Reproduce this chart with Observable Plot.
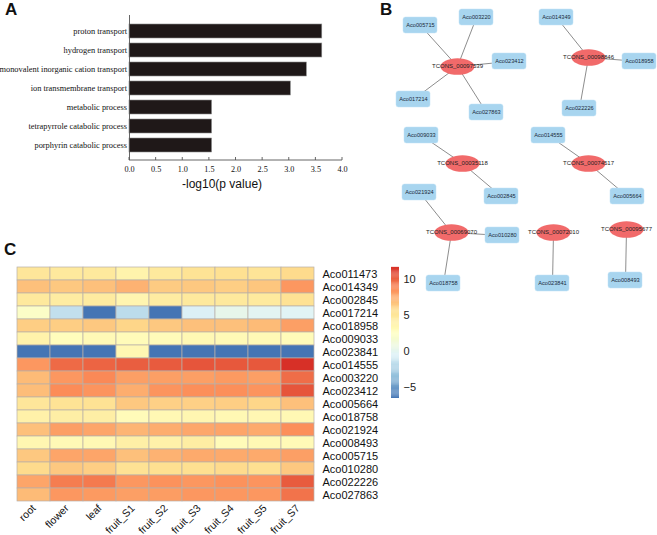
<!DOCTYPE html>
<html><head><meta charset="utf-8">
<script src="https://cdn.jsdelivr.net/npm/d3@7"></script>
<script src="https://cdn.jsdelivr.net/npm/@observablehq/plot@0.6"></script>
<style>
body{margin:0;background:#fff;}
#root{position:relative;width:657px;height:535px;overflow:hidden;background:#fff;font-family:Arial,"Liberation Sans",sans-serif;}
.panel{position:absolute;}
.panel svg{background:transparent !important;overflow:visible;}
.tag{position:absolute;font:bold 17px Arial,"Liberation Sans",sans-serif;color:#111;line-height:1;}
.xtitle{position:absolute;font:12px Arial,"Liberation Sans",sans-serif;color:#111;line-height:1;}
</style></head><body><div id="root"></div>
<script>
// ---------- Panel A data ----------
const goTerms = ["proton transport","hydrogen transport","monovalent inorganic cation transport","ion transmembrane transport","metabolic process","tetrapyrrole catabolic process","porphyrin catabolic process"];
const goValues = [3.62,3.62,3.33,3.03,1.55,1.55,1.55];
const xTicks = [0,0.5,1,1.5,2,2.5,3,3.5,4];

// ---------- Panel B data (network layout coordinates) ----------
const lncNames = ["TCONS_00097539","TCONS_00098846","TCONS_00035118","TCONS_00074517","TCONS_00069070","TCONS_00072010","TCONS_00095677"];
const lncX = [77,208,82,208,71,173,246];
const lncY = [66,57,163,163,232,232,229];
const geneNames = ["Aco005715","Aco003220","Aco023412","Aco017214","Aco027863","Aco014349","Aco018958","Aco022226","Aco009033","Aco002845","Aco014555","Aco005664","Aco021924","Aco010280","Aco018758","Aco023841","Aco008493"];
const geneX = [40,96,129,33,106,176,259,199,41,121,168,247,39,122,63,172,245];
const geneY = [25,17,61,99,112,17,61,108,135,196,135,196,192,235,283,283,280];
const edgeLnc = ["TCONS_00097539","TCONS_00097539","TCONS_00097539","TCONS_00097539","TCONS_00097539","TCONS_00098846","TCONS_00098846","TCONS_00098846","TCONS_00035118","TCONS_00035118","TCONS_00074517","TCONS_00074517","TCONS_00069070","TCONS_00069070","TCONS_00069070","TCONS_00072010","TCONS_00095677"];
const edgeGene = ["Aco005715","Aco003220","Aco023412","Aco017214","Aco027863","Aco014349","Aco018958","Aco022226","Aco009033","Aco002845","Aco014555","Aco005664","Aco021924","Aco010280","Aco018758","Aco023841","Aco008493"];

// ---------- Panel C data ----------
const samples = ["root","flower","leaf","fruit_S1","fruit_S2","fruit_S3","fruit_S4","fruit_S5","fruit_S7"];
const heatGenes = ["Aco011473","Aco014349","Aco002845","Aco017214","Aco018958","Aco009033","Aco023841","Aco014555","Aco003220","Aco023412","Aco005664","Aco018758","Aco021924","Aco008493","Aco005715","Aco010280","Aco022226","Aco027863"];
const expr = [
  [5.0,4.8,4.8,3.8,4.8,5.3,5.5,5.2,5.8],
  [6.8,6.5,6.8,7.3,6.4,6.5,6.3,6.6,8.3],
  [4.8,4.5,4.6,3.6,4.5,4.8,4.8,4.7,5.4],
  [2.2,-1.6,-6.5,-1.8,-6.5,-0.6,0.3,-0.1,-0.3],
  [6.3,6.3,6.5,6.0,6.5,6.8,6.8,7.0,8.0],
  [3.9,2.8,3.2,3.0,3.0,3.3,3.2,3.2,3.0],
  [-6.5,-6.5,-6.5,3.4,-6.5,-6.5,-6.5,-6.5,-6.5],
  [8.3,9.8,10.0,10.2,10.3,10.5,10.4,10.4,11.7],
  [7.0,8.3,8.8,8.0,8.0,8.0,8.2,8.0,9.7],
  [6.9,8.7,8.4,7.5,8.4,8.6,8.6,8.4,10.5],
  [5.0,5.3,5.4,6.5,6.2,6.2,6.3,6.0,6.8],
  [4.0,4.3,4.3,3.0,3.3,3.5,3.3,3.4,3.3],
  [6.8,8.0,7.8,7.2,7.5,7.7,7.8,7.6,8.6],
  [3.5,3.2,3.3,4.2,4.0,4.4,3.0,3.3,3.1],
  [6.5,7.8,7.8,6.8,7.3,7.6,7.6,7.6,8.0],
  [5.8,6.5,6.3,5.4,5.6,5.6,5.8,5.6,6.5],
  [7.8,9.2,9.3,8.3,8.5,8.3,8.5,8.4,10.3],
  [7.0,8.3,8.2,8.0,8.1,8.3,8.3,8.3,9.5]
];
const legendTicks = [-5,0,5,10];
const paletteColors = ["#4575B4","#91BFDB","#E0F3F8","#FFFFBF","#FEE090","#FC8D59","#D73027"];

// ---------- helpers ----------
const root = document.getElementById("root");
function place(el, left, top){ const d=document.createElement("div"); d.className="panel"; d.style.left=left+"px"; d.style.top=top+"px"; d.appendChild(el); root.appendChild(d); return d; }
function tag(text, left, top, cls="tag"){ const d=document.createElement("div"); d.className=cls; d.textContent=text; d.style.left=left+"px"; d.style.top=top+"px"; root.appendChild(d); }
const serif = "'Liberation Serif','Times New Roman',Times,serif";
const sans = "Arial,'Liberation Sans',Helvetica,sans-serif";

// ---------- Panel A ----------
const goData = goTerms.map((t,i)=>({term:t, value:goValues[i]}));
const hA = 195, mbA = 35;
const chartA = Plot.plot({
  width: 380, height: hA,
  marginLeft: 129, marginRight: 38, marginTop: 15, marginBottom: mbA,
  style: {background:"transparent", color:"#111"},
  x: {domain:[0,4]},
  y: {domain: goTerms, padding: 0.27},
  marks: [
    Plot.barX(goData, {x:"value", y:"term", fill:"#1f1818", stroke:"#8c8c8c", strokeWidth:0.6}),
    Plot.ruleX([0], {stroke:"#555", strokeWidth:0.9}),
    Plot.axisY({tickSize:0, tickPadding:2.5, fontSize:8.4, fontFamily:serif, label:null}),
    Plot.axisX({ticks:xTicks, tickFormat:d3.format(".1f"), tickSize:0, tickPadding:6, fontSize:8.2, fontFamily:serif, label:null})
  ]
});
{
  const sx = chartA.scale("x");
  const yb = hA - mbA;
  const svg = d3.select(chartA.tagName.toLowerCase()==="svg" ? chartA : chartA.querySelector("svg"));
  const g = svg.append("g").attr("stroke","#555").attr("stroke-width",0.9);
  g.append("line").attr("x1",sx.apply(0)).attr("x2",sx.apply(4)).attr("y1",yb).attr("y2",yb);
  xTicks.forEach(t=>g.append("line").attr("x1",sx.apply(t)).attr("x2",sx.apply(t)).attr("y1",yb).attr("y2",yb-3));
}
place(chartA, 0, 0);
tag("A", 5, 1);
tag("-log10(p value)", 182, 178, "xtitle");

// ---------- Panel B ----------
const lncNodes = lncNames.map((n,i)=>({name:n, x:lncX[i], y:lncY[i]}));
const geneNodes = geneNames.map((n,i)=>({name:n, x:geneX[i], y:geneY[i]}));
const nodeIndex = new Map([...lncNodes, ...geneNodes].map(d=>[d.name,d]));
const edges = edgeLnc.map((l,i)=>({a:nodeIndex.get(l), b:nodeIndex.get(edgeGene[i])}));
const ellipse = {draw(ctx){ const rx=17, ry=8.3, k=0.5523;
  ctx.moveTo(rx,0);
  ctx.bezierCurveTo(rx,ry*k,rx*k,ry,0,ry);
  ctx.bezierCurveTo(-rx*k,ry,-rx,ry*k,-rx,0);
  ctx.bezierCurveTo(-rx,-ry*k,-rx*k,-ry,0,-ry);
  ctx.bezierCurveTo(rx*k,-ry,rx,-ry*k,rx,0);
  ctx.closePath(); }};
const bw = 17, bh = 8;
const chartB = Plot.plot({
  width: 277, height: 300, margin: 0,
  style: {background:"transparent"},
  x: {domain:[0,277], range:[0,277], axis:null},
  y: {domain:[0,300], range:[0,300], axis:null},
  marks: [
    Plot.link(edges, {x1:d=>d.a.x, y1:d=>d.a.y, x2:d=>d.b.x, y2:d=>d.b.y, stroke:"#808080", strokeWidth:0.9}),
    Plot.rect(geneNodes, {x1:d=>d.x-bw, x2:d=>d.x+bw, y1:d=>d.y-bh, y2:d=>d.y+bh, fill:"#a8d5ef", stroke:"#c2e2f5", strokeWidth:0.5, rx:2.5}),
    Plot.dot(lncNodes, {x:"x", y:"y", symbol:ellipse, r:10, fill:"#f16a6a", stroke:"none"}),
    Plot.text(geneNodes, {x:"x", y:"y", text:"name", fontSize:5.6, fill:"#1a2a3a", fontFamily:sans}),
    Plot.text(lncNodes, {x:"x", y:"y", text:"name", fontSize:6, fill:"#222", fontFamily:sans})
  ]
});
place(chartB, 380, 0);
tag("B", 380, 1);

// ---------- Panel C ----------
const cells = [];
heatGenes.forEach((g,i)=>samples.forEach((s,j)=>cells.push({gene:g, sample:s, value:expr[i][j]})));
const [vmin, vmax] = d3.extent(cells, d=>d.value);
const colorDomain = paletteColors.map((_,i)=> vmin + (vmax - vmin) * i / (paletteColors.length-1));
const colorScale = {type:"linear", domain: colorDomain, range: paletteColors, interpolate:"rgb"};

const chartC = Plot.plot({
  width: 380, height: 285,
  marginLeft: 13, marginRight: 62, marginTop: 16, marginBottom: 33,
  style: {background:"transparent", color:"#111"},
  x: {domain: samples, padding: 0},
  y: {domain: heatGenes, padding: 0},
  color: colorScale,
  marks: [
    Plot.cell(cells, {x:"sample", y:"gene", fill:"value", stroke:"#b8b0a8", strokeWidth:0.7, inset:0}),
    Plot.axisY({anchor:"right", tickSize:0, tickPadding:4, fontSize:11, fontFamily:sans, label:null}),
    Plot.axisX({anchor:"bottom", tickSize:0, tickPadding:4, tickRotate:-45, fontSize:10.5, fontFamily:sans, label:null})
  ]
});
place(chartC, 0, 250);
tag("C", 4, 241);

// colour bar
const nSteps = 120;
const steps = d3.range(nSteps).map(i=>{ const lo = vmin + (vmax-vmin)*i/nSteps, hi = vmin + (vmax-vmin)*(i+1)/nSteps; return {lo, hi, mid:(lo+hi)/2}; });
const chartL = Plot.plot({
  width: 50, height: 150,
  marginLeft: 6, marginRight: 36, marginTop: 7, marginBottom: 12,
  style: {background:"transparent", color:"#222"},
  x: {domain:[0,1], axis:null},
  y: {domain:[vmin, vmax]},
  color: colorScale,
  marks: [
    Plot.rect(steps, {x1:0, x2:1, y1:"lo", y2:d=>d.hi + 0.02, fill:"mid"}),
    Plot.axisY({anchor:"right", ticks: legendTicks, tickSize:0, tickPadding:4, fontSize:11, fontFamily:sans, label:null})
  ]
});
place(chartL, 385, 260);
</script></body></html>
